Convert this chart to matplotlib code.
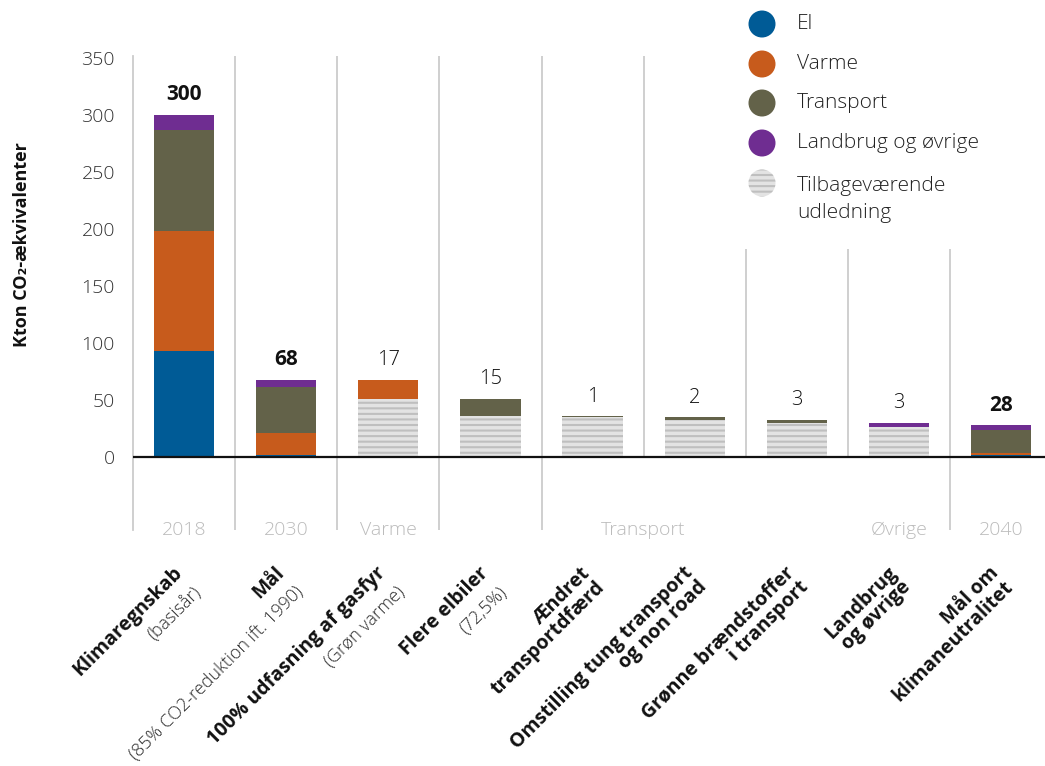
import matplotlib
matplotlib.use("Agg")
import matplotlib.pyplot as plt
import matplotlib.transforms as mtransforms
from matplotlib.patches import Circle, Rectangle
import numpy as np

# ---------------- data ----------------
labels_main = ["Klimaregnskab", "Mål", "100% udfasning af gasfyr", "Flere elbiler",
               "Ændret\ntransportdfærd", "Omstilling tung transport\nog non road",
               "Grønne brændstoffer\ni transport", "Landbrug\nog øvrige", "Mål om\nklimaneutralitet"]
labels_sub = ["(basisår)", "(85% CO2-reduktion ift. 1990)", "(Grøn varme)", "(72,5%)",
              None, None, None, None, None]

# stacked totals (2018, 2030, 2040)
stack_idx = [0, 1, 8]
el = [93, 2, 2]
varme = [105, 19, 2]
transport = [89, 41, 20]
landbrug = [13, 6, 4]

# waterfall steps
step_idx = [2, 3, 4, 5, 6, 7]
remaining = [51, 36, 35, 33, 30, 27]
reductions = [17, 15, 1, 2, 3, 3]
reduction_sector = ["Varme", "Transport", "Transport", "Transport", "Transport", "Landbrug og øvrige"]

value_labels = ["300", "68", "17", "15", "1", "2", "3", "3", "28"]
value_bold = [True, True, False, False, False, False, False, False, True]

groups = ["2018", "2030", "Varme", "Transport", "Øvrige", "2040"]
group_pos = [0, 1, 2, 4.5, 7, 8]

sectors = ["El", "Varme", "Transport", "Landbrug og øvrige"]
colors = {"El": "#005b96", "Varme": "#c75b1c", "Transport": "#636249",
          "Landbrug og øvrige": "#6f2d91"}
hatch_face = "#e3e3e3"
hatch_col = "#bfbfbf"

FONT = ["Open Sans", "DejaVu Sans"]
plt.rcParams["font.family"] = FONT
plt.rcParams["hatch.linewidth"] = 1.5

fig = plt.figure(figsize=(10.45, 7.66), dpi=100)
W, H = 1045, 766
ax_left, ax_right = 133 / W, 1.0
ax_top, ax_bot = 1 - 56 / H, 1 - 530 / H
ax = fig.add_axes([ax_left, ax_bot, ax_right - ax_left, ax_top - ax_bot])

bw = 0.59
# stacked bars
bottom = np.zeros(len(stack_idx))
for name, vals in zip(sectors, [el, varme, transport, landbrug]):
    ax.bar(stack_idx, vals, bw, bottom=bottom, color=colors[name], linewidth=0, zorder=3)
    bottom = bottom + np.array(vals)

# waterfall bars
ax.bar(step_idx, remaining, bw, color=hatch_face, edgecolor=hatch_col, hatch="---",
       linewidth=0, zorder=3)
ax.bar(step_idx, reductions, bw, bottom=remaining,
       color=[colors[s] for s in reduction_sector], linewidth=0, zorder=3)

# value labels
top_vals = {}
for k, i in enumerate(stack_idx):
    top_vals[i] = bottom[k]
for k, i in enumerate(step_idx):
    top_vals[i] = remaining[k] + reductions[k]
for i in range(9):
    ax.annotate(value_labels[i], (i, top_vals[i]), xytext=(0, 7), textcoords="offset points",
                ha="center", va="bottom",
                fontsize=15 if value_bold[i] else 14.5,
                fontweight="bold" if value_bold[i] else "light", color="#111111", zorder=5)

ax.set_xlim(-0.5, 8.43)
ax.set_ylim(-63.5, 351.5)

# separators
inner = [4.5, 5.5, 6.5]
outer = [0.5, 1.5, 2.5, 3.5, 7.5]
ax.vlines(inner, 0, 351.5, color="#cccccc", lw=1.3, zorder=1)
ax.vlines(outer, -63.5, 351.5, color="#cccccc", lw=1.3, zorder=1)
ax.axhline(0, color="#111111", lw=1.6, zorder=4)

for s in ["top", "right", "bottom"]:
    ax.spines[s].set_visible(False)
ax.spines["left"].set_color("#cccccc")
ax.spines["left"].set_linewidth(1.3)

ax.set_yticks(range(0, 351, 50))
ax.tick_params(axis="y", length=0, pad=13, labelsize=14, labelcolor="#333333")
for t in ax.get_yticklabels():
    t.set_fontweight("light")
ax.set_xticks([])

# group labels
for g, p in zip(groups, group_pos):
    ax.text(p, -63.5, g, ha="center", va="center", fontsize=14, color="#bbbbbb",
            fontweight="light")

# rotated category labels
trans = ax.get_xaxis_transform()
y_anchor = (530 - 563) / (530 - 56)
for i in range(9):
    ax.text(i - 0.12, y_anchor, labels_main[i], transform=trans, rotation=45,
            rotation_mode="anchor", ha="right", va="top", fontsize=14,
            fontweight="bold", color="#111111", linespacing=1.0, clip_on=False)
    if labels_sub[i]:
        t2 = mtransforms.offset_copy(trans, fig=fig, x=20, y=-20, units="dots")
        ax.text(i - 0.12, y_anchor, labels_sub[i], transform=t2, rotation=45,
                rotation_mode="anchor", ha="right", va="top", fontsize=13,
                fontweight="light", color="#2a2a2a", clip_on=False)

# y label
fig.text(22 / W, 1 - 245 / H, "Kton CO₂-ækvivalenter", rotation=90, ha="center",
         va="center", fontsize=13, fontweight="bold", color="#111111")

# legend overlay (pixel coordinates)
lax = fig.add_axes([0, 0, 1, 1], zorder=10)
lax.set_xlim(0, W)
lax.set_ylim(H, 0)
lax.axis("off")
lax.patch.set_alpha(0)
lax.add_patch(Rectangle((736, 0), W - 736, 249, color="white", lw=0))
leg_names = sectors + ["Tilbageværende\nudledning"]
leg_y = [24, 64, 103, 143, 183]
for name, yy in zip(leg_names, leg_y):
    if name in colors:
        lax.add_patch(Circle((762, yy), 13.5, color=colors[name], lw=0))
    else:
        lax.add_patch(Circle((762, yy), 13.5, facecolor=hatch_face, edgecolor=hatch_col,
                             hatch="---", lw=0))
    lax.text(797, yy if "\n" not in name else yy - 7, name, ha="left",
             va="center" if "\n" not in name else "top", fontsize=15, color="#222222",
             fontweight="light", linespacing=1.45)

fig.savefig("out.png", dpi=100)
